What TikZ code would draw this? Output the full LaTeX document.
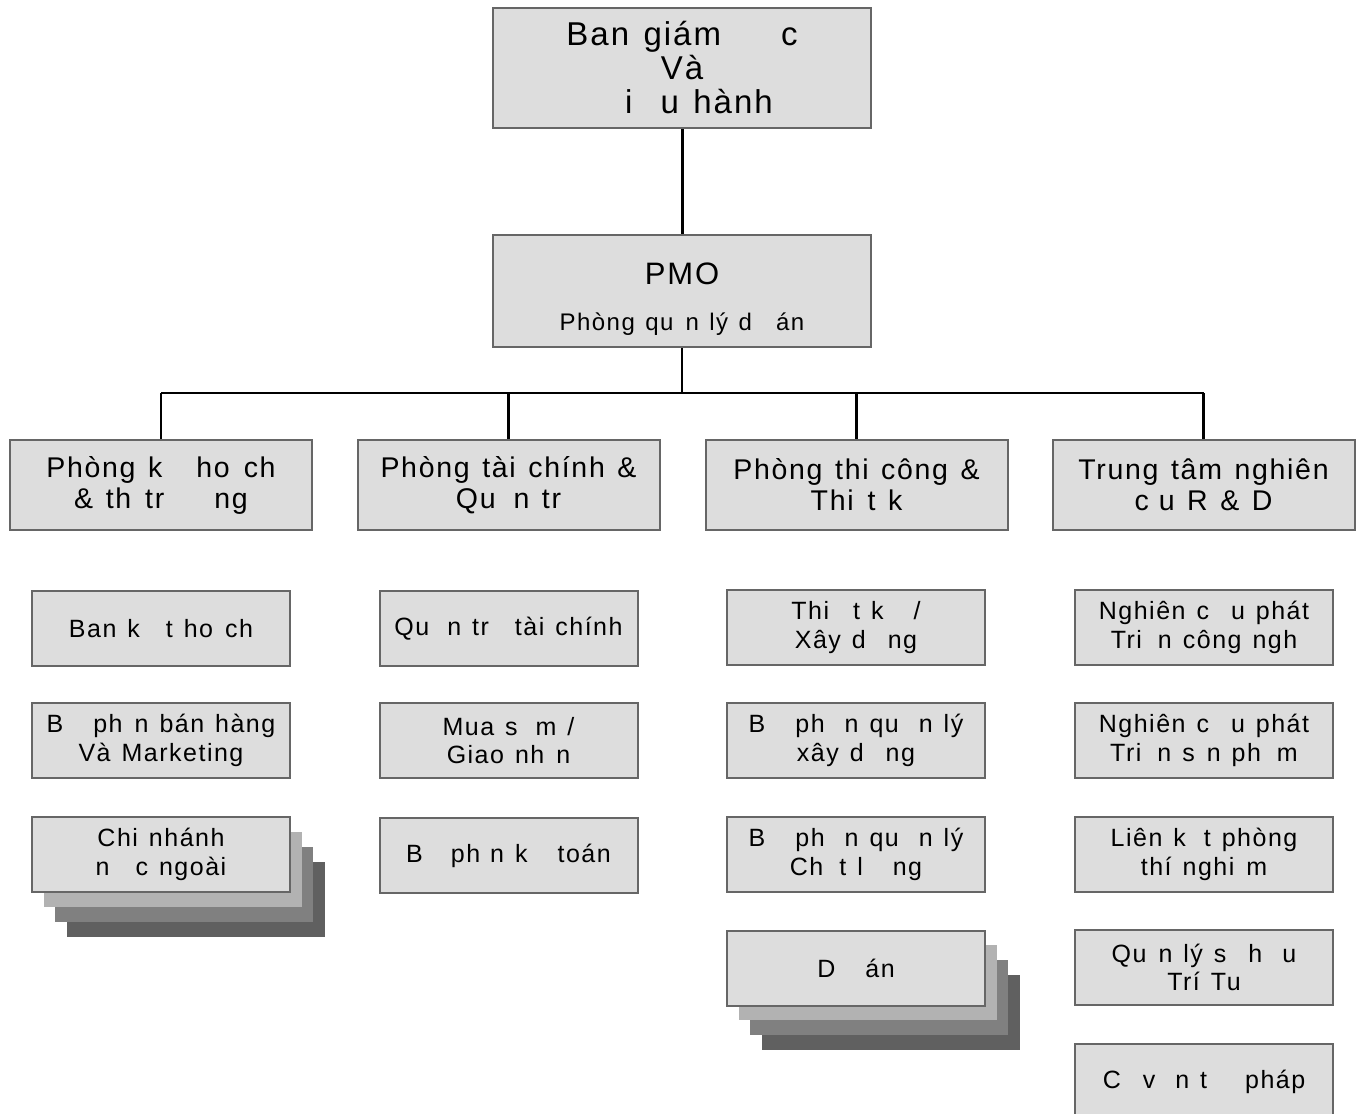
\documentclass[tikz,border=0pt]{standalone}
\usepackage{fontspec}
\setmainfont{Liberation Sans}[LetterSpace=6, WordSpace=1.3]
\newcommand\gp[1]{\hspace{#1pt}}
\definecolor{boxfill}{HTML}{DDDDDD}
\definecolor{boxline}{HTML}{666666}
\definecolor{layerA}{HTML}{B2B2B2}
\definecolor{layerB}{HTML}{808080}
\definecolor{layerC}{HTML}{606060}
\tikzset{
  box/.style={draw=boxline, line width=2pt, fill=boxfill, inner sep=0pt, align=center},
  topbox/.style={box, minimum width=378pt, minimum height=120pt, font=\fontsize{33}{34}\selectfont},
  pmobox/.style={box, minimum width=378pt, minimum height=112pt},
  deptbox/.style={box, minimum width=302pt, minimum height=90pt, font=\fontsize{28.5}{31}\selectfont},
  unitbox/.style={box, minimum width=258pt, minimum height=75pt, font=\fontsize{25}{28.5}\selectfont},
  layer/.style={inner sep=0pt, minimum width=258pt, minimum height=75pt, fill=#1},
  link/.style={line width=2.5pt, black},
}
\begin{document}
\begin{tikzpicture}[x=1pt, y=-1pt]
\clip (0,0) rectangle (1358,1114);
\fill[white] (0,0) rectangle (1358,1114);

% top
\node[topbox] (top) at (682,68) {Ban giám\gp{60}c\\Và\\\gp{34}i\gp{28}u hành};
\node[pmobox] (pmo) at (682,291) {};
\node[font=\fontsize{31}{36}\selectfont, anchor=base, inner sep=0pt] (pmot) at (682,284) {PMO};
\node[font=\fontsize{24}{27}\selectfont, anchor=base, inner sep=0pt] (pmos) at (682,330) {Phòng qu\gp{12}n lý d\gp{24}án};

% departments
\node[deptbox] (d1) at (161,485) {Phòng k\gp{34}ho\gp{14}ch\\\& th\gp{14}tr\gp{50}ng};
\node[deptbox] (d2) at (508.5,485) {Phòng tài chính \&\\Qu\gp{18}n tr};
\node[deptbox] (d3) at (856.5,485) {Phòng thi công \&\\Thi\gp{14}t k};
\node[deptbox] (d4) at (1203.5,485) {Trung tâm nghiên\\c\gp{10}u R \& D};

% connectors
\coordinate (b1) at (161,393);
\coordinate (b2) at (508.5,393);
\coordinate (b3) at (856.5,393);
\coordinate (b4) at (1203.5,393);
\coordinate (bc) at (682,393);
\draw[link, line width=3pt] (top.south) -- (pmo.north);
\draw[link] (pmo.south) -- (bc);
\draw[link] (b1) -- (b4);
\draw[link] (b1) -- (d1.north);
\draw[link] (b2) -- (d2.north);
\draw[link] (b3) -- (d3.north);
\draw[link] (b4) -- (d4.north);

% column 1
\node[unitbox] (u11) at (161,628.5) {Ban k\gp{26}t ho\gp{12}ch};
\node[unitbox] (u12) at (161,740.5) {B\gp{30}ph\gp{12}n bán hàng\\Và Marketing};
\node[layer=layerC] (s13c) at (195.5,899.5) {};
\node[layer=layerB] (s13b) at (184,884.5) {};
\node[layer=layerA] (s13a) at (172.5,869.5) {};
\node[unitbox] (u13) at (161,854.5) {Chi nhánh\\n\gp{26}c ngoài};

% column 2
\node[unitbox] (u21) at (508.5,628.5) {Qu\gp{18}n tr\gp{26}tài chính};
\node[unitbox] (u22) at (508.5,740.5) {Mua s\gp{18}m /\\Giao nh\gp{12}n};
\node[unitbox] (u23) at (508.5,855.5) {B\gp{28}ph\gp{10}n k\gp{30}toán};

% column 3
\node[unitbox] (u31) at (856,627.5) {Thi\gp{24}t k\gp{30}/\\Xây d\gp{22}ng};
\node[unitbox] (u32) at (856,740.5) {B\gp{30}ph\gp{20}n qu\gp{20}n lý\\xây d\gp{22}ng};
\node[unitbox] (u33) at (856,854.5) {B\gp{30}ph\gp{20}n qu\gp{20}n lý\\Ch\gp{16}t l\gp{30}ng};
\node[layer=layerC] (s34c) at (890.5,1012.5) {};
\node[layer=layerB] (s34b) at (879,997.5) {};
\node[layer=layerA] (s34a) at (867.5,982.5) {};
\node[unitbox] (u34) at (856,968.5) {D\gp{30}án};

% column 4
\node[unitbox] (u41) at (1204,627.5) {Nghiên c\gp{22}u phát\\Tri\gp{16}n công ngh\gp{16}};
\node[unitbox] (u42) at (1204,740.5) {Nghiên c\gp{22}u phát\\Tri\gp{16}n s\gp{12}n ph\gp{16}m};
\node[unitbox] (u43) at (1204,854.5) {Liên k\gp{18}t phòng\\thí nghi\gp{12}m};
\node[unitbox] (u44) at (1204,967.5) {Qu\gp{12}n lý s\gp{22}h\gp{20}u\\Trí Tu\gp{18}};
\node[unitbox] (u45) at (1204,1081.5) {C\gp{22}v\gp{20}n t\gp{38}pháp};
\end{tikzpicture}
\end{document}
